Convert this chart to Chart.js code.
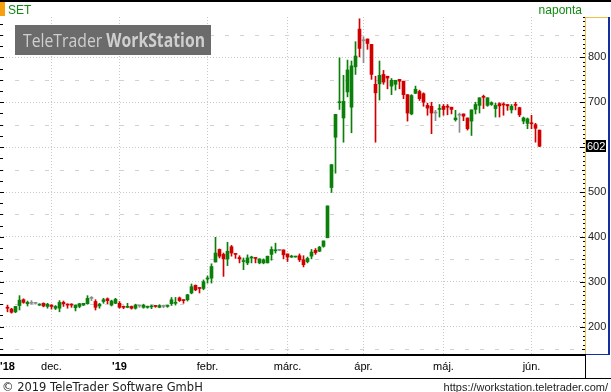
<!DOCTYPE html>
<html>
<head>
<meta charset="utf-8">
<script src="https://cdn.jsdelivr.net/npm/chart.js@4/dist/chart.umd.min.js"></script>
<style>
  html, body { margin: 0; padding: 0; background: #fff; }
  canvas { display: block; }
</style>
</head>
<body>
<canvas id="chart" width="611" height="392"></canvas>
<script>
// napi gyertyak (SET), 2018 nov. vege - 2019 jun. eleje
var openV = [243,239,233,247,260,251,252,252,248,252,245,248,241,241,254,250,249,242,245,248,
  251,263,256,246,256,262,248,252,252,245,243,245,241,246,243,243,244,246,243,245,
  245,251,252,264,260,260,275,292,287,285,306,308,344,372,361,351,378,363,354,345,
  342,353,354,342,342,342,361,369,370,371,362,355,355,358,349,345,357,370,368,379,
  398,510,622,699,665,723,689,779,863,837,841,829,740,741,762,758,736,740,751,747,
  717,674,720,724,719,693,691,676,684,691,691,689,661,671,674,665,658,684,693,712,
  693,695,686,697,695,695,683,695,688,658,653,653,650,638];
var highV = [248,241,245,269,262,257,258,254,251,253,252,249,247,258,257,251,251,248,252,252,
  269,267,260,252,263,264,259,263,256,246,252,246,250,248,250,246,248,247,249,248,
  248,265,265,266,260,272,295,293,287,304,313,340,399,373,364,388,381,363,358,353,
  360,357,354,351,351,357,378,386,372,371,362,359,357,362,358,355,372,374,379,391,
  469,561,673,799,760,794,792,835,886,846,841,829,758,792,771,758,753,749,751,747,
  717,717,736,727,721,698,700,682,695,695,695,689,682,676,674,665,683,700,710,716,
  710,701,698,699,699,695,695,700,689,667,665,671,653,638];
var lowV = [233,230,231,237,252,246,250,250,247,244,241,239,238,233,245,241,243,235,242,247,
  250,258,237,241,252,251,246,251,241,240,242,239,239,243,241,241,240,243,242,242,
  243,247,248,256,252,257,273,280,275,282,297,297,344,353,312,336,357,352,342,327,
  338,342,342,340,340,342,348,364,369,351,345,354,355,345,333,342,351,361,367,377,
  398,499,542,684,611,712,632,762,801,788,818,751,611,705,740,730,717,727,730,708,
  658,672,719,704,691,671,630,659,667,671,672,674,658,633,659,638,626,674,676,686,
  691,693,667,667,671,682,676,683,668,652,641,641,611,601];
var closeV = [241,232,245,259,254,254,252,252,250,246,250,245,245,254,251,248,248,248,251,252,
  263,263,243,250,260,258,257,261,243,243,244,241,248,246,248,245,246,245,247,245,
  247,260,254,258,258,271,289,282,285,300,308,334,364,357,351,368,364,361,351,347,
  353,355,352,351,349,357,372,371,370,360,355,357,356,349,338,352,366,365,377,391,
  469,561,673,701,702,772,781,803,820,837,831,762,721,760,745,754,749,749,747,717,
  676,715,729,708,700,687,676,676,685,684,689,684,665,671,669,641,683,695,710,711,
  710,699,693,692,694,692,691,693,672,665,663,652,642,602];

// honapok: az elso kereskedesi nap sorszama
var monthLabels = ["'18", 'dec.', "'19", 'febr.', 'márc.', 'ápr.', 'máj.', 'jún.'];
var monthPos = [0, 11, 28, 50, 70, 89, 109, 131];
var yTicks = [200, 300, 400, 500, 600, 700, 800];
var lastPrice = 602;

var UP = '#0a800a', DOWN = '#d00000', FLAT = '#8c8c8c';

function candleColor(i) {
    if (closeV[i] > openV[i]) return UP;
    if (closeV[i] < openV[i]) return DOWN;
    return FLAT;
}

var wicks = lowV.map(function(l, i) { return { x: i, y: [l, highV[i]] }; });
var bodies = openV.map(function(o, i) { return { x: i, y: [o, closeV[i]] }; });

var extras = {
    id: 'extras',
    beforeDatasetsDraw: function(chart) {
        var ctx = chart.ctx, a = chart.chartArea, y = chart.scales.y;
        ctx.save();
        // szaggatott vonalak 50-esenkent
        ctx.strokeStyle = '#d2d2d2';
        ctx.lineWidth = 1;
        ctx.setLineDash([4, 11]);
        for (var v = 150; v <= 850; v += 100) {
            var py = Math.round(y.getPixelForValue(v)) + 0.5;
            ctx.beginPath();
            ctx.moveTo(a.left, py);
            ctx.lineTo(a.right, py);
            ctx.stroke();
        }
        ctx.setLineDash([]);
        // watermark
        ctx.fillStyle = '#6b6b6b';
        ctx.fillRect(15, 25, 196, 30);
        ctx.fillStyle = '#cfcfcf';
        ctx.textBaseline = 'alphabetic';
        ctx.font = '19px "Open Sans"';
        var w1 = ctx.measureText('TeleTrader ').width;
        ctx.font = 'bold 19px "Open Sans"';
        var w2 = ctx.measureText('WorkStation').width;
        var k = 182 / (w1 + w2);
        ctx.translate(23, 47);
        ctx.scale(k, 1);
        ctx.font = '19px "Open Sans"';
        ctx.fillText('TeleTrader ', 0, 0);
        ctx.font = 'bold 19px "Open Sans"';
        ctx.fillText('WorkStation', w1, 0);
        ctx.restore();
    },
    afterDraw: function(chart) {
        var ctx = chart.ctx, a = chart.chartArea, y = chart.scales.y;
        var W = chart.width;
        ctx.save();
        // felso keret
        ctx.fillStyle = '#000';
        ctx.fillRect(0, 0, W, 2);
        ctx.fillStyle = '#f5a00f';
        ctx.fillRect(0, 2, 5, 14);
        ctx.font = '12px "Liberation Sans"';
        ctx.textBaseline = 'alphabetic';
        ctx.fillStyle = '#128a12';
        ctx.fillText('SET', 8, 14);
        ctx.textAlign = 'right';
        ctx.fillText('naponta', 582, 14);
        ctx.textAlign = 'left';

        // jobb tengely vonalai
        ctx.fillStyle = '#f0c040';
        ctx.fillRect(a.right, a.top, 1, a.bottom - a.top);
        ctx.fillRect(a.right, a.top, W - a.right - 2, 1);
        ctx.fillStyle = '#1030a0';
        ctx.fillRect(W - 3, a.top, 2, a.bottom - a.top + 1);
        ctx.fillRect(a.right, a.bottom, W - a.right - 2, 1);

        // kis jelolesek a jobb tengelyen
        ctx.fillStyle = '#000';
        for (var v = 140; v <= 890; v += 10) {
            var py = Math.round(y.getPixelForValue(v));
            var len = v % 100 === 0 ? 5 : (v % 50 === 0 ? 3 : 2);
            ctx.fillRect(a.right - len, py, len, 1);
        }
        // bal oldali jelolesek
        for (var u = 150; u <= 875; u += 25) {
            var qy = Math.round(y.getPixelForValue(u));
            ctx.fillRect(0, qy, u % 100 === 0 ? 4 : 3, 1);
        }

        // also tengely
        ctx.fillRect(0, a.bottom, a.right + 1, 2);
        ctx.fillRect(0, 378, W, 1);
        ctx.fillRect(a.right, a.bottom, 1, 378 - a.bottom);

        // utolso ar
        var lp = Math.round(y.getPixelForValue(lastPrice));
        ctx.fillRect(a.right + 1, lp - 6, 20, 12);
        ctx.fillStyle = '#fff';
        ctx.font = '11px "Liberation Sans"';
        ctx.textBaseline = 'middle';
        ctx.fillText(String(lastPrice), a.right + 2, lp + 0.5);

        // lablec
        ctx.fillStyle = '#222';
        ctx.textBaseline = 'alphabetic';
        ctx.font = '11.5px "DejaVu Sans"';
        ctx.fillText('\u00a9 2019 TeleTrader Software GmbH', 2, 391);
        ctx.textAlign = 'right';
        ctx.font = '11px "Liberation Sans"';
        ctx.fillText('https://workstation.teletrader.com/', 608, 391);
        ctx.restore();
    }
};

new Chart(document.getElementById('chart').getContext('2d'), {
    type: 'bar',
    data: {
        datasets: [{
            data: wicks,
            grouped: false,
            barThickness: 1,
            backgroundColor: function(c) { return candleColor(c.dataIndex); },
            order: 2
        }, {
            data: bodies,
            grouped: false,
            barThickness: 3,
            minBarLength: 1,
            backgroundColor: function(c) { return candleColor(c.dataIndex); },
            order: 1
        }]
    },
    options: {
        responsive: false,
        animation: false,
        devicePixelRatio: 1,
        layout: { padding: { top: 17, left: 0, right: 0, bottom: 14 } },
        plugins: { legend: { display: false }, tooltip: { enabled: false } },
        scales: {
            x: {
                type: 'linear',
                offset: false,
                min: -1.875,
                max: 144.375,
                afterBuildTicks: function(s) {
                    s.ticks = monthPos.map(function(p) { return { value: p }; });
                },
                afterFit: function(s) {
                    s.height = 24;
                    s.paddingLeft = 0;
                    s.paddingRight = 0;
                },
                grid: {
                    offset: false,
                    drawTicks: false,
                    color: function(c) { return c.index === 0 ? 'rgba(0,0,0,0)' : '#c8c8c8'; }
                },
                border: { display: false, dash: [1, 2] },
                ticks: {
                    autoSkip: false,
                    maxRotation: 0,
                    padding: 6,
                    color: '#000',
                    font: function(c) {
                        var lab = monthLabels[c.index] || '';
                        return { family: 'Liberation Sans', size: 11, weight: lab.charAt(0) === "'" ? 'bold' : 'normal' };
                    },
                    callback: function(v, i) { return monthLabels[i]; }
                }
            },
            y: {
                position: 'right',
                min: 139,
                max: 890,
                afterBuildTicks: function(s) {
                    s.ticks = yTicks.map(function(t) { return { value: t }; });
                },
                afterFit: function(s) { s.width = 26; },
                grid: { drawTicks: false, color: '#c8c8c8' },
                border: { display: false, dash: [1, 2] },
                ticks: {
                    padding: 3,
                    color: '#222',
                    font: { family: 'Liberation Sans', size: 11 }
                }
            }
        }
    },
    plugins: [extras]
});
</script>
</body>
</html>
